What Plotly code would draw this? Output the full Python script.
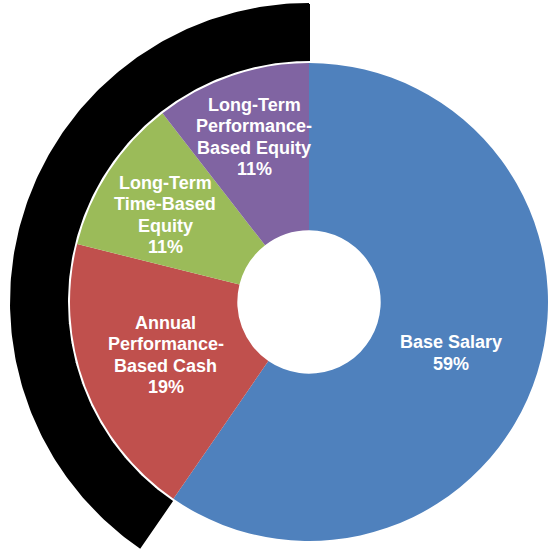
import numpy as np
import plotly.graph_objects as go

# ---- data ----
categories = ["Base Salary", "Annual Performance-Based Cash",
              "Long-Term Time-Based Equity", "Long-Term Performance-Based Equity"]
label_lines = [["Base Salary"],
               ["Annual", "Performance-", "Based Cash"],
               ["Long-Term", "Time-Based", "Equity"],
               ["Long-Term", "Performance-", "Based Equity"]]
values = [59.6, 19.3, 10.6, 10.5]          # slice sizes as drawn
pct_labels = ["59%", "19%", "11%", "11%"]  # printed percentages
colors = ["#4F81BD", "#C0504D", "#9BBB59", "#8064A2"]

# ---- layout geometry (pixels) ----
W, H = 551, 550
cx, cy = 309, 302          # donut centre
R = 239                    # donut outer radius
hole = 0.300
arc_r_in, arc_r_out = 242, 298
label_r = [151, 153, 168, 174]      # radial distance of each label block
label_dang = [2.5, 0.4, -2.0, 0.6]  # small angular nudge (deg)
line_h = 21.5
font = dict(family="Liberation Sans, Arial, sans-serif", size=18, color="white", weight="bold")

fig = go.Figure()

# black highlight arc around the non-salary part, drawn on hidden cartesian axes (1 unit = 1 px)
share = sum(values[1:]) / sum(values)
theta = np.linspace(0, -share * 2 * np.pi, 200)
xo = cx + arc_r_out * np.sin(theta)
yo = cy - arc_r_out * np.cos(theta)
xi = cx + arc_r_in * np.sin(theta[::-1])
yi = cy - arc_r_in * np.cos(theta[::-1])
fig.add_trace(go.Scatter(
    x=np.concatenate([xo, xi, xo[:1]]), y=np.concatenate([yo, yi, yo[:1]]),
    mode="lines", fill="toself", fillcolor="black",
    line=dict(color="black", width=2), hoverinfo="skip", showlegend=False))

fig.add_trace(go.Pie(
    labels=categories, values=values, textinfo="none",
    marker=dict(colors=colors, line=dict(width=0)),
    hole=hole, sort=False, direction="clockwise", rotation=0,
    domain=dict(x=[(cx - R) / W, (cx + R) / W], y=[(H - cy - R) / H, (H - cy + R) / H]),
    hoverinfo="label", showlegend=False))

# slice labels at each slice's mid-angle
total = sum(values)
cum = 0
annotations = []
for lines, v, p, r, da in zip(label_lines, values, pct_labels, label_r, label_dang):
    mid = np.deg2rad((cum + v / 2) / total * 360 + da)
    cum += v
    x = cx + r * np.sin(mid)
    y = cy - r * np.cos(mid)
    all_lines = lines + [p]
    n = len(all_lines)
    for i, t in enumerate(all_lines):
        annotations.append(dict(
            x=x, y=y, xref="x", yref="y", text=t, showarrow=False,
            font=font, xanchor="center", yanchor="middle",
            yshift=((n - 1) / 2 - i) * line_h))

fig.update_layout(
    width=W, height=H, margin=dict(l=0, r=0, t=0, b=0),
    paper_bgcolor="white", plot_bgcolor="white",
    xaxis=dict(range=[0, W], visible=False, fixedrange=True),
    yaxis=dict(range=[H, 0], visible=False, fixedrange=True),
    annotations=annotations,
    showlegend=False)

fig.write_html("out.html", config={"displayModeBar": False},
               post_script="document.body.style.margin='0';")
